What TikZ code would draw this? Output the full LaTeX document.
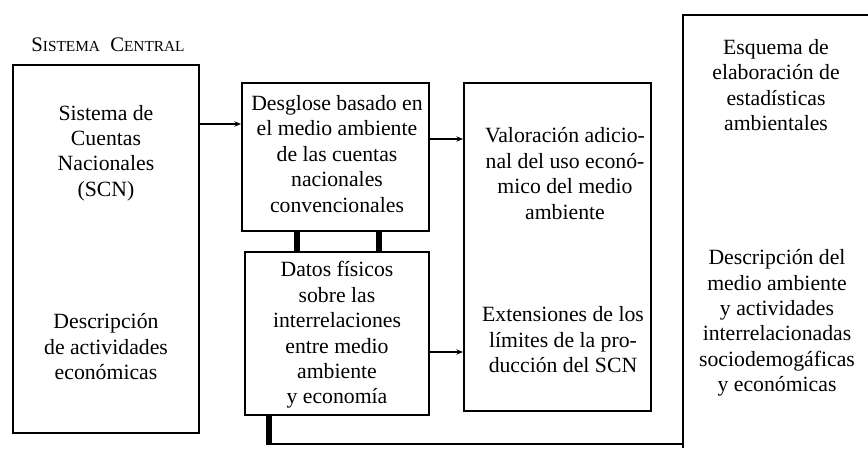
\documentclass[tikz,border=0pt]{standalone}
\usepackage{fontspec}
\setmainfont{Liberation Serif}
\usetikzlibrary{arrows.meta}
\begin{document}
\begin{tikzpicture}[x=0.75pt,y=-0.75pt,
  boxline/.style={draw,line width=1.5pt,inner sep=0pt},
  txt/.style={align=center,inner sep=0pt,font=\fontsize{16.3}{19.1}\selectfont},
  arr/.style={line width=1.1pt,-{Stealth[length=5pt,width=4pt]}},
  bar/.style={line width=4.5pt},
  thinline/.style={line width=1.5pt}]
\useasboundingbox (0,0) rectangle (868,449);
% title
\node[inner sep=0pt,font=\fontsize{15.5}{18}\selectfont] (title) at (108,45)
  {S{\fontsize{11.5}{14}\selectfont ISTEMA}\enspace C{\fontsize{11.5}{14}\selectfont ENTRAL}};
% boxes
\node[boxline,minimum width=186*0.75pt,minimum height=368*0.75pt] (sc) at (106,249) {};
\node[boxline,minimum width=187*0.75pt,minimum height=148*0.75pt] (dg) at (335.5,157) {};
\node[boxline,minimum width=184*0.75pt,minimum height=163*0.75pt] (df) at (337,333.5) {};
\node[boxline,minimum width=187*0.75pt,minimum height=328*0.75pt] (va) at (557.5,247) {};
% right open box
\coordinate (rbtop) at (868,15);
\coordinate (rbcorner) at (683,15);
\coordinate (rbbottom) at (683,448);
\draw[thinline] (rbtop) -- (rbcorner) -- (rbbottom);
% texts
\node[txt] (t1) at (106,153) {Sistema de\\Cuentas\\Nacionales\\(SCN)};
\node[txt] (t2) at (106,347) {Descripción\\de actividades\\económicas};
\node[txt] (t3) at (337,154) {Desglose basado en\\el medio ambiente\\de las cuentas\\nacionales\\convencionales};
\node[txt] (t4) at (337,335) {Datos físicos\\sobre las\\interrelaciones\\entre medio\\ambiente\\y economía};
\node[txt] (t5) at (565,173.5) {Valoración adicio-\\nal del uso econó-\\mico del medio\\ambiente};
\node[txt] (t6) at (563,340) {Extensiones de los\\límites de la pro-\\ducción del SCN};
\node[txt] (t7) at (776,85) {Esquema de\\elaboración de\\estadísticas\\ambientales};
\node[txt] (t8) at (777,323) {Descripción del\\medio ambiente\\y actividades\\interrelacionadas\\sociodemogáficas\\y económicas};
% arrows
\coordinate (y1) at (0,124);
\coordinate (y2) at (0,139);
\coordinate (y3) at (0,352);
\draw[arr] (sc.east |- y1) -- (dg.west |- y1);
\draw[arr] (dg.east |- y2) -- (va.west |- y2);
\draw[arr] (df.east |- y3) -- (va.west |- y3);
% thick links
\coordinate (xa) at (297,0);
\coordinate (xb) at (379,0);
\draw[bar] (dg.south -| xa) -- (df.north -| xa);
\draw[bar] (dg.south -| xb) -- (df.north -| xb);
% bottom link
\coordinate (bk) at (269,445);
\coordinate (bl) at (266,444);
\draw[bar] (df.south -| bk) -- (bk);
\draw[thinline] (bl) -- (rbbottom |- bl);
\end{tikzpicture}
\end{document}
